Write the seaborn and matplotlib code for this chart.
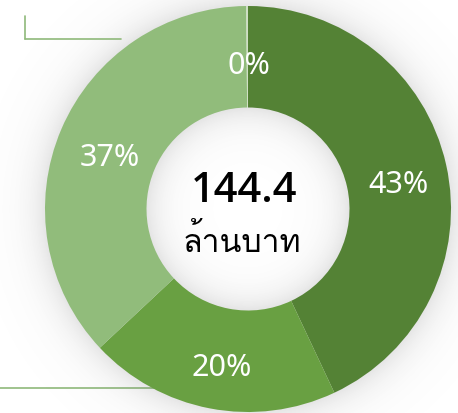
import numpy as np
import matplotlib
matplotlib.use("Agg")
import matplotlib.pyplot as plt
from matplotlib import font_manager
from fontTools.ttLib import TTFont
import seaborn as sns

# values in million baht (total 144.4)
amounts = [62.1, 28.9, 53.2, 0.2]
colors = ["#548235", "#69a042", "#91bc7b", "#cfe0c4"]
total_label = "144.4"
unit_label = "ล้านบาท"


def thai_families():
    found = []
    for f in font_manager.fontManager.ttflist:
        try:
            cmap = TTFont(f.fname, fontNumber=0, lazy=True).getBestCmap()
        except Exception:
            continue
        if cmap and all(ord(c) in cmap for c in unit_label):
            if f.name not in found:
                found.append(f.name)
    return found


thai = thai_families()

sns.set_style("white")
plt.rcParams['font.family'] = ['Noto Sans', 'DejaVu Sans']

fig = plt.figure(figsize=(4.58, 4.14), dpi=100)
ax = fig.add_axes([0, 0, 1, 1])

R = 203.0
cx, cy = 248.0, 210.0
xlim = (-cx / R, (458 - cx) / R)
ylim = (-(414 - cy) / R, cy / R)

# soft shadow around the ring
xs = np.linspace(xlim[0], xlim[1], 460)
ys = np.linspace(ylim[0], ylim[1], 416)
X, Y = np.meshgrid(xs, ys)
r = np.sqrt(X**2 + Y**2)
d = np.maximum(np.maximum(r - 1.0, 0.5 - r), 0)
alpha = 0.19 * np.exp(-d / 0.085)
img = np.zeros(X.shape + (4,))
img[..., :3] = 0.45
img[..., 3] = alpha
ax.imshow(img, extent=[xlim[0], xlim[1], ylim[0], ylim[1]], origin="lower", zorder=0)

wedges, texts, autotexts = ax.pie(
    amounts, colors=colors, startangle=90, counterclock=False,
    radius=1.0, wedgeprops=dict(width=0.5, linewidth=0),
    autopct='%.0f%%', pctdistance=0.75,
    textprops=dict(color="white", fontsize=22),
)
for w in wedges:
    w.set_zorder(2)
for t in autotexts:
    t.set_zorder(3)
    x, y = t.get_position()
    t.set_position((x + 0.01, y - 0.04))

ax.text(-0.02, 0.095, total_label, ha="center", va="center", fontsize=30,
        fontweight="semibold", color="black", family=['Open Sans', 'DejaVu Sans'])
ax.text(-0.03, -0.16, unit_label, ha="center", va="center", fontsize=23,
        color="black", family=thai + ['Noto Sans', 'DejaVu Sans'])

ax.set_xlim(*xlim)
ax.set_ylim(*ylim)
ax.set_aspect("equal")
ax.axis("off")

# decorative lines
line_c = "#8fb97a"
fig.add_artist(plt.Line2D([25 / 458, 25 / 458], [1 - 17 / 414, 1 - 40 / 414],
                          color=line_c, lw=1.2, transform=fig.transFigure))
fig.add_artist(plt.Line2D([25 / 458, 121 / 458], [1 - 40 / 414, 1 - 40 / 414],
                          color=line_c, lw=1.2, transform=fig.transFigure))
fig.add_artist(plt.Line2D([0, 160 / 458], [1 - 389 / 414, 1 - 389 / 414],
                          color=line_c, lw=1.2, transform=fig.transFigure, zorder=0))

fig.savefig("out.png", dpi=100)
